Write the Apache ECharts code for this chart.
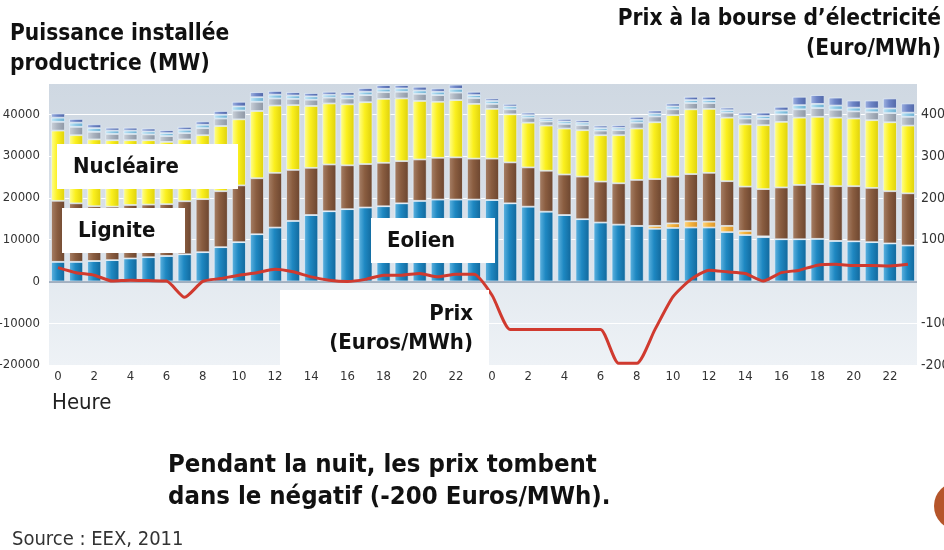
<!DOCTYPE html>
<html>
<head>
<meta charset="utf-8">
<script src="https://cdn.jsdelivr.net/npm/echarts@6/dist/echarts.min.js"></script>
<style>
html, body { margin: 0; padding: 0; background: #fff; }
#main { width: 944px; height: 550px; }
</style>
</head>
<body>
<div id="main"></div>
<script>
// heures sur deux jours
var hours = ['0','1','2','3','4','5','6','7','8','9','10','11','12','13','14','15','16','17','18','19','20','21','22','23',
             '0','1','2','3','4','5','6','7','8','9','10','11','12','13','14','15','16','17','18','19','20','21','22','23'];

// MW, de bas en haut
var eolien = [4700,4700,4900,5100,5500,5800,6100,6500,7000,8200,9400,11300,12900,14500,15900,16800,17300,17700,18000,18700,19300,19600,19600,19600,
              19500,18700,17900,16700,15900,14900,14100,13600,13300,12600,12800,12900,12900,11800,11100,10600,10100,10100,10200,9700,9600,9400,9100,8600];
var solaire = [0,0,0,0,0,0,0,0,0,0,0,0,0,0,0,0,0,0,0,0,0,0,0,0,
               0,0,0,0,0,0,0,0,0,700,1100,1500,1400,1500,1000,200,0,0,0,0,0,0,0,0];
var lignite = [14600,14000,13100,12800,12800,12600,12400,12700,12700,13400,13600,13400,13100,12200,11300,11200,10500,10400,10400,10100,9900,10000,10100,9800,
               9900,9800,9400,9800,9700,10200,9800,9900,11000,11200,11200,11300,11700,10700,10600,11300,12400,13000,13100,13100,13200,13000,12500,12500];
var nucleaire = [16800,16300,16000,15900,15500,15400,14900,14800,15300,15600,15800,16100,16100,15500,14800,14600,14600,14800,15300,15000,14000,13400,13700,13100,
                 11900,11500,10700,10800,11000,11100,11100,11500,12300,13600,14700,15500,15300,15200,14900,15300,15700,16100,16100,16400,16200,16200,16500,16200];
var gaz = [2100,2000,1800,1500,1500,1400,1400,1500,1700,1800,2100,2200,1700,1500,1500,1400,1400,1700,1600,1600,1700,1600,1800,1400,
           1200,1200,1200,1000,1100,1200,1100,1200,1400,1400,1400,1500,1400,1200,1400,1500,1800,2000,2100,1900,1700,1900,2200,2100];
var hydraulique = [1000,1000,900,800,800,700,700,800,800,900,1000,1100,900,800,800,700,700,800,800,800,800,800,900,700,
                   700,700,600,500,600,600,600,600,700,700,700,700,700,600,700,700,900,1000,1000,1000,900,900,1100,1000];
var autres = [1000,900,900,700,700,700,700,700,800,900,1100,1200,900,800,800,700,800,900,900,800,900,800,1000,800,
              600,600,600,500,600,600,600,600,700,700,700,800,800,600,700,800,900,2000,2100,1900,1700,1900,2400,2200];
// Euro/MWh
var prix = [33,21,15,1,3,2,1,-38,0,7,15,21,29,23,11,3,0,5,15,15,19,11,17,17,
            -33,-115,-115,-115,-115,-115,-115,-196,-196,-116,-37,5,27,23,19,1,21,27,39,41,38,38,37,41];

var FONT = "'DejaVu Sans Condensed', 'Liberation Sans Narrow', sans-serif";

function cyl(c0, c1, c2) {
  return new echarts.graphic.LinearGradient(0, 0, 1, 0, [
    { offset: 0, color: c0 }, { offset: 0.45, color: c1 }, { offset: 1, color: c2 }
  ]);
}

function barSerie(name, data, colors, extra) {
  var s = {
    name: name,
    type: 'bar',
    stack: 'mw',
    barWidth: 14,
    data: data,
    itemStyle: {
      color: cyl(colors[0], colors[1], colors[2]),
      borderColor: 'rgba(230,240,248,0.9)',
      borderWidth: 0.8
    }
  };
  if (extra) Object.assign(s, extra);
  return s;
}

var myChart = echarts.init(document.getElementById('main'));

myChart.setOption({
  backgroundColor: '#ffffff',
  animation: false,
  textStyle: { fontFamily: FONT },
  grid: {
    left: 49, right: 27, top: 83, bottom: 185,
    outerBoundsMode: 'none',
    containLabel: false,
    show: true,
    borderWidth: 0,
    backgroundColor: new echarts.graphic.LinearGradient(0, 0, 0, 1, [
      { offset: 0, color: '#cfd8e2' },
      { offset: 0.70, color: '#dde4ec' },
      { offset: 0.703, color: '#e4eaf0' },
      { offset: 1, color: '#eef2f6' }
    ])
  },
  xAxis: {
    type: 'category',
    data: hours,
    axisLine: { show: false, onZero: false },
    axisTick: { show: false },
    axisLabel: { interval: 1, color: '#333', fontSize: 13, margin: 5, fontFamily: FONT }
  },
  yAxis: [{
    type: 'value',
    min: -20000, max: 47500, interval: 10000,
    axisLine: { show: false },
    axisTick: { show: false },
    splitLine: { lineStyle: { color: '#ffffff', width: 1 } },
    axisLabel: {
      color: '#333', fontSize: 13, margin: 9, fontFamily: FONT,
      formatter: function (v) { return v % 10000 === 0 ? String(v) : ''; }
    }
  }, {
    type: 'value',
    position: 'right',
    min: -200, max: 475, interval: 100,
    axisLine: { show: false },
    axisTick: { show: false },
    splitLine: { show: false },
    axisLabel: {
      color: '#333', fontSize: 14, margin: 4, align: 'left', fontFamily: FONT,
      formatter: function (v) { return (v % 100 === 0 && v !== 0) ? String(v) : ''; }
    }
  }],
  series: [
    barSerie('Eolien', eolien, ['#62b5e1', '#1e88c2', '#11679b'], {
      markLine: {
        silent: true, symbol: 'none', label: { show: false },
        lineStyle: { color: '#8a9bb0', width: 1.5, type: 'solid' },
        data: [{ yAxis: 0 }]
      }
    }),
    barSerie('Solaire', solaire, ['#ffd98a', '#f5b43e', '#d8922a']),
    barSerie('Lignite', lignite, ['#a88168', '#8a5d40', '#6b452f']),
    barSerie('Nucléaire', nucleaire, ['#ffff94', '#fbf01e', '#ddd00c']),
    barSerie('Gaz', gaz, ['#cdd3db', '#aab3bf', '#8c96a4']),
    barSerie('Hydraulique', hydraulique, ['#c6e8f7', '#90cbe7', '#6caed0']),
    barSerie('Autres', autres, ['#a2b4e2', '#6d84c6', '#5066a6'], null),
    {
      name: 'Prix',
      type: 'line',
      yAxisIndex: 1,
      data: prix,
      symbol: 'none',
      smooth: 0.2,
      lineStyle: { color: '#d03a2f', width: 3 },
      z: 5
    }
  ],
  graphic: [
    { type: 'text', left: 10, top: 23, style: { text: 'Puissance installée', fontSize: 22.5, fontWeight: 'bold', fontFamily: FONT, fill: '#111' } },
    { type: 'text', left: 10, top: 53, style: { text: 'productrice (MW)', fontSize: 22.5, fontWeight: 'bold', fontFamily: FONT, fill: '#111' } },
    { type: 'text', right: 3, top: 8, style: { text: 'Prix à la bourse d\u2019électricité', fontSize: 22.5, fontWeight: 'bold', fontFamily: FONT, fill: '#111' } },
    { type: 'text', right: 3, top: 38, style: { text: '(Euro/MWh)', fontSize: 22.5, fontWeight: 'bold', fontFamily: FONT, fill: '#111' } },

    { type: 'rect', shape: { x: 57, y: 144, width: 181, height: 45 }, style: { fill: '#fff' }, z: 100 },
    { type: 'text', x: 73, y: 167, z: 101, style: { text: 'Nucléaire', fontSize: 22, fontWeight: 'bold', fontFamily: FONT, fill: '#111', textVerticalAlign: 'middle' } },
    { type: 'rect', shape: { x: 62, y: 208, width: 123, height: 45 }, style: { fill: '#fff' }, z: 100 },
    { type: 'text', x: 78, y: 231, z: 101, style: { text: 'Lignite', fontSize: 22, fontWeight: 'bold', fontFamily: FONT, fill: '#111', textVerticalAlign: 'middle' } },
    { type: 'rect', shape: { x: 371, y: 218, width: 124, height: 45 }, style: { fill: '#fff' }, z: 100 },
    { type: 'text', x: 387, y: 241, z: 101, style: { text: 'Eolien', fontSize: 22, fontWeight: 'bold', fontFamily: FONT, fill: '#111', textVerticalAlign: 'middle' } },
    { type: 'rect', shape: { x: 280, y: 290, width: 209, height: 75 }, style: { fill: '#fff' }, z: 100 },
    { type: 'text', x: 473, y: 314, z: 101, style: { text: 'Prix', fontSize: 22, fontWeight: 'bold', fontFamily: FONT, fill: '#111', textAlign: 'right', textVerticalAlign: 'middle' } },
    { type: 'text', x: 473, y: 343, z: 101, style: { text: '(Euros/MWh)', fontSize: 22, fontWeight: 'bold', fontFamily: FONT, fill: '#111', textAlign: 'right', textVerticalAlign: 'middle' } },

    { type: 'text', x: 52, y: 403, style: { text: 'Heure', fontSize: 22, fontFamily: FONT, fill: '#222', textVerticalAlign: 'middle' } },
    { type: 'text', x: 168, y: 465, style: { text: 'Pendant la nuit, les prix tombent', fontSize: 25.5, fontWeight: 'bold', fontFamily: FONT, fill: '#111', textVerticalAlign: 'middle' } },
    { type: 'text', x: 168, y: 497, style: { text: 'dans le négatif (-200 Euros/MWh).', fontSize: 25.5, fontWeight: 'bold', fontFamily: FONT, fill: '#111', textVerticalAlign: 'middle' } },
    { type: 'text', x: 12, y: 540, style: { text: 'Source : EEX, 2011', fontSize: 20, fontFamily: FONT, fill: '#333', textVerticalAlign: 'middle' } },
    { type: 'circle', shape: { cx: 958, cy: 506, r: 24 }, style: { fill: '#b5552a' } }
  ]
});

window.addEventListener('resize', function () { myChart.resize(); });
</script>
</body>
</html>
